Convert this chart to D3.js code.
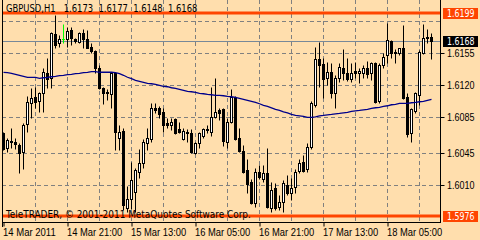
<!DOCTYPE html>
<html>
<head>
<meta charset="utf-8">
<script src="https://cdn.jsdelivr.net/npm/d3@7"></script>
<style>
  body { margin: 0; background: #FFDEAD; }
  svg { display: block; font-family: "DejaVu Sans Condensed", "Liberation Sans", sans-serif; font-size: 11px; }
</style>
</head>
<body>
<div class="chart-container"></div>
<script>
// GBPUSD H1 bars, 14 Mar 2011 05:00 -> 18 Mar 2011 16:00
const opens = [1.6067,1.6051,1.6058,1.6057,1.6054,1.6046,1.6077,1.6100,1.6107,1.6102,1.6111,1.6133,1.6127,1.6176,1.6166,1.6170,1.6170,1.6180,1.6170,1.6167,
  1.6177,1.6170,1.6162,1.6157,1.6139,1.6117,1.6112,1.6110,1.6133,1.6062,1.6069,1.5985,1.5995,1.6002,1.6024,1.6034,1.6056,1.6060,1.6094,1.6095,
  1.6090,1.6078,1.6076,1.6083,1.6071,1.6061,1.6068,1.6067,1.6045,1.6056,1.6064,1.6072,1.6068,1.6085,1.6092,1.6093,1.6057,1.6079,1.6107,1.6062,
  1.6047,1.6026,1.6013,1.5990,1.6024,1.6017,1.6023,1.5985,1.6007,1.5986,1.5991,1.6010,1.6001,1.6008,1.6025,1.6035,1.6027,1.6052,1.6098,1.6148,
  1.6143,1.6127,1.6134,1.6111,1.6127,1.6139,1.6133,1.6126,1.6135,1.6133,1.6133,1.6139,1.6133,1.6144,1.6102,1.6142,1.6153,1.6168,1.6156,1.6155,
  1.6160,1.6107,1.6067,1.6091,1.6109,1.6155,1.6171,1.6173];
const highs = [1.6068,1.6062,1.6073,1.6062,1.6056,1.6078,1.6108,1.6117,1.6118,1.6112,1.6139,1.6149,1.6178,1.6197,1.6175,1.6187,1.6183,1.6183,1.6172,1.6178,
  1.6181,1.6180,1.6166,1.6158,1.6142,1.6118,1.6115,1.6134,1.6134,1.6076,1.6073,1.6009,1.6035,1.6029,1.6050,1.6061,1.6073,1.6100,1.6100,1.6097,
  1.6094,1.6084,1.6084,1.6084,1.6079,1.6073,1.6072,1.6072,1.6057,1.6068,1.6073,1.6076,1.6118,1.6128,1.6095,1.6094,1.6084,1.6115,1.6108,1.6073,
  1.6054,1.6039,1.6017,1.6029,1.6032,1.6032,1.6051,1.6013,1.6012,1.5999,1.6015,1.6021,1.6018,1.6027,1.6039,1.6043,1.6056,1.6102,1.6162,1.6167,
  1.6150,1.6145,1.6144,1.6131,1.6144,1.6159,1.6150,1.6144,1.6145,1.6138,1.6142,1.6146,1.6145,1.6145,1.6144,1.6155,1.6188,1.6169,1.6159,1.6161,
  1.6186,1.6111,1.6094,1.6112,1.6158,1.6187,1.6181,1.6177];
const lows = [1.6048,1.6046,1.6051,1.6050,1.6023,1.6028,1.6068,1.6084,1.6094,1.6090,1.6090,1.6116,1.6117,1.6161,1.6162,1.6166,1.6162,1.6164,1.6166,1.6166,
  1.6161,1.6160,1.6155,1.6133,1.6115,1.6099,1.6103,1.6095,1.6048,1.6048,1.5982,1.5980,1.5984,1.5980,1.6018,1.6029,1.6048,1.6057,1.6089,1.6084,
  1.6068,1.6073,1.6070,1.6066,1.6067,1.6059,1.6057,1.6045,1.6044,1.6051,1.6062,1.6067,1.6064,1.6084,1.6081,1.6053,1.6051,1.6078,1.6059,1.6046,
  1.6023,1.6001,1.5989,1.5986,1.6017,1.6013,1.5985,1.5980,1.5983,1.5982,1.5980,1.5999,1.5994,1.6001,1.6023,1.6024,1.6024,1.6050,1.6096,1.6118,
  1.6106,1.6120,1.6106,1.6094,1.6123,1.6125,1.6124,1.6123,1.6128,1.6122,1.6127,1.6128,1.6125,1.6100,1.6100,1.6139,1.6144,1.6150,1.6144,1.6153,
  1.6104,1.6063,1.6057,1.6089,1.6098,1.6154,1.6166,1.6148];
const closes = [1.6050,1.6059,1.6057,1.6055,1.6045,1.6076,1.6101,1.6106,1.6101,1.6111,1.6134,1.6126,1.6177,1.6164,1.6170,1.6170,1.6179,1.6171,1.6168,1.6177,
  1.6170,1.6161,1.6157,1.6139,1.6116,1.6111,1.6111,1.6133,1.6068,1.6068,1.5988,1.5995,1.6015,1.6026,1.6034,1.6057,1.6062,1.6095,1.6092,1.6088,
  1.6076,1.6076,1.6079,1.6067,1.6068,1.6069,1.6067,1.6046,1.6056,1.6067,1.6072,1.6070,1.6085,1.6090,1.6089,1.6058,1.6079,1.6107,1.6061,1.6047,
  1.6024,1.6011,1.5990,1.6024,1.6019,1.6023,1.5986,1.6005,1.5985,1.5991,1.6012,1.6001,1.6007,1.6024,1.6034,1.6025,1.6052,1.6100,1.6148,1.6142,
  1.6126,1.6134,1.6111,1.6127,1.6140,1.6133,1.6126,1.6133,1.6133,1.6135,1.6139,1.6132,1.6144,1.6101,1.6142,1.6151,1.6169,1.6155,1.6155,1.6160,
  1.6106,1.6066,1.6093,1.6111,1.6156,1.6172,1.6173,1.6168];
// moving average, one value per bar
const maValues = [1.61338,1.61333,1.61327,1.61316,1.61305,1.61294,1.61283,1.61283,1.61283,1.61272,1.61278,1.61283,1.61289,1.61294,1.61300,1.61305,1.61311,1.61316,1.61322,1.61327,
  1.61333,1.61338,1.61344,1.61344,1.61338,1.61338,1.61338,1.61338,1.61333,1.61322,1.61305,1.61283,1.61267,1.61250,1.61239,1.61228,1.61217,1.61212,1.61206,1.61195,
  1.61184,1.61179,1.61168,1.61162,1.61151,1.61140,1.61129,1.61124,1.61118,1.61107,1.61102,1.61096,1.61091,1.61085,1.61085,1.61080,1.61074,1.61069,1.61063,1.61052,
  1.61041,1.61030,1.61019,1.61008,1.60992,1.60975,1.60964,1.60948,1.60931,1.60920,1.60904,1.60893,1.60876,1.60865,1.60860,1.60854,1.60843,1.60843,1.60849,1.60860,
  1.60865,1.60871,1.60876,1.60882,1.60887,1.60893,1.60898,1.60909,1.60915,1.60920,1.60926,1.60931,1.60942,1.60948,1.60953,1.60964,1.60970,1.60981,1.60986,1.60997,
  1.60997,1.60997,1.61003,1.61008,1.61014,1.61019,1.61030,1.61041];

const priceGrid = [1.6190, 1.6155, 1.6120, 1.6085, 1.6045, 1.6010];
const priceTicks = [1.6155, 1.6120, 1.6085, 1.6045, 1.6010]; // 1.6190 sits under the 1.6199 box
const timeTickBars = [0, 16, 32, 48, 64, 80, 96];
const timeTickLabels = ["14 Mar 2011", "14 Mar 21:00", "15 Mar 13:00", "16 Mar 05:00", "16 Mar 21:00", "17 Mar 13:00", "18 Mar 05:00"];
const gridBars = [8, 16, 24, 32, 40, 48, 56, 64, 72, 80, 88, 96, 104];
const levelPrices = [1.6199, 1.5976];
const bidPrice = 1.6168;
const symbolTitle = "GBPUSD,H1";
const copyrightText = "TeleTRADER, \u00a9 2001-2011 MetaQuotes Software Corp.";

const width = 480, height = 240;
const plot = { left: 2, right: 440, top: 0, bottom: 222 };

// squeeze text to the width the terminal font gives
function fit(sel, perChar) {
    sel.each(function() {
        const t = d3.select(this), s = t.text();
        const w = d3.sum(s.split(""), c => c === "." || c === "," || c === ":" ? perChar * 0.5 : c === " " ? perChar * 0.55 : c === "M" ? perChar * 1.45 : perChar);
        t.attr("textLength", w).attr("lengthAdjust", "spacingAndGlyphs");
    });
}

const svg = d3.select(".chart-container").append("svg")
    .attr("width", width)
    .attr("height", height);

svg.append("rect").attr("width", width).attr("height", height).attr("fill", "#FFDEAD");

const x = d3.scaleLinear()
    .domain([0, 108])
    .range([3.5, 435.5]);

const y = d3.scaleLinear()
    .domain([1.59693, 1.62132])
    .range([plot.bottom, plot.top]);

const py = v => Math.round(y(v)) + 0.5;

// grid
svg.append("g").selectAll("line").data(priceGrid).join("line")
    .attr("x1", plot.left).attr("x2", plot.right)
    .attr("y1", d => py(d)).attr("y2", d => py(d))
    .attr("stroke", "#808080").attr("stroke-dasharray", "4,3");

svg.append("g").selectAll("line").data(gridBars).join("line")
    .attr("x1", d => x(d)).attr("x2", d => x(d))
    .attr("y1", plot.top).attr("y2", plot.bottom)
    .attr("stroke", "#808080").attr("stroke-dasharray", "4,3");

// support / resistance levels
svg.append("g").selectAll("line").data(levelPrices).join("line")
    .attr("x1", plot.left).attr("x2", plot.right)
    .attr("y1", d => Math.round(y(d))).attr("y2", d => Math.round(y(d)))
    .attr("stroke", "#FF4500").attr("stroke-width", 3);

// bid line
svg.append("line")
    .attr("x1", plot.left).attr("x2", plot.right)
    .attr("y1", py(bidPrice)).attr("y2", py(bidPrice))
    .attr("stroke", "#778899");

// candles
const bars = d3.range(opens.length);
const candle = svg.append("g").selectAll("g").data(bars).join("g");

candle.append("line")
    .attr("x1", i => x(i)).attr("x2", i => x(i))
    .attr("y1", i => py(highs[i])).attr("y2", i => py(lows[i]))
    .attr("stroke", i => opens[i] === closes[i] ? "#00FF00" : "#000");

candle.filter(i => opens[i] !== closes[i]).append("rect")
    .attr("x", i => x(i) - 1)
    .attr("y", i => py(Math.max(opens[i], closes[i])))
    .attr("width", 2)
    .attr("height", i => Math.max(1, py(Math.min(opens[i], closes[i])) - py(Math.max(opens[i], closes[i]))))
    .attr("fill", i => closes[i] > opens[i] ? "#fff" : "#000")
    .attr("stroke", "#000");

candle.filter(i => opens[i] === closes[i]).append("line")
    .attr("x1", i => x(i) - 1.5).attr("x2", i => x(i) + 1.5)
    .attr("y1", i => py(opens[i])).attr("y2", i => py(opens[i]))
    .attr("stroke", "#00FF00");

// moving average
const maLine = d3.line()
    .x((d, i) => x(i))
    .y(d => y(d));

svg.append("path")
    .datum(maValues)
    .attr("d", maLine)
    .attr("fill", "none")
    .attr("stroke", "#00008B")
    .attr("stroke-width", 1.3);

// frame + axes
svg.append("line").attr("x1", plot.left + 0.5).attr("x2", plot.left + 0.5)
    .attr("y1", 0).attr("y2", plot.bottom + 5).attr("stroke", "#000");

const yAxis = svg.append("g")
    .attr("transform", "translate(" + (plot.right + 0.5) + ",0)")
    .call(d3.axisRight(y).tickValues(priceTicks).tickSize(4).tickSizeOuter(0).tickFormat(d3.format(".4f")));
yAxis.select(".domain").attr("d", "M0,0V" + (plot.bottom + 0.5));
yAxis.selectAll(".tick").attr("transform", d => "translate(0," + py(d) + ")");
yAxis.selectAll("text").attr("fill", "#000").attr("font-size", 10).attr("font-family", null).attr("x", 6.5).call(fit, 5);
yAxis.selectAll("line,path").attr("stroke", "#000");

const xAxis = svg.append("g")
    .attr("transform", "translate(0," + (plot.bottom + 0.5) + ")")
    .call(d3.axisBottom(x).tickValues(timeTickBars).tickSize(4).tickSizeOuter(0)
        .tickFormat((d, i) => timeTickLabels[i]));
xAxis.select(".domain").attr("d", "M" + plot.left + ",0H" + (plot.right + 1));
xAxis.selectAll("text").attr("text-anchor", "start").attr("y", 13).attr("dy", 0).attr("dx", -1)
    .attr("fill", "#000").attr("font-size", 11).attr("font-family", null).call(fit, 5);
xAxis.selectAll("line,path").attr("stroke", "#000");

// price boxes on the right scale
const boxes = [
    { price: levelPrices[0], fill: "#FF4500" },
    { price: bidPrice, fill: "#000" },
    { price: levelPrices[1], fill: "#FF4500" }
];
const box = svg.append("g").selectAll("g").data(boxes).join("g")
    .attr("transform", d => "translate(443," + Math.round(y(d.price)) + ")");
box.append("rect").attr("x", 0).attr("y", -5).attr("width", 35).attr("height", 11).attr("fill", d => d.fill);
box.append("text").attr("x", 4).attr("y", 4).attr("fill", "#fff").attr("font-size", 10)
    .text(d => d3.format(".4f")(d.price)).call(fit, 5);

// texts
const last = opens.length - 1;
svg.append("text")
    .attr("x", 6).attr("y", 12)
    .attr("xml:space", "preserve")
    .text(symbolTitle + "   " + [opens[last], highs[last], lows[last], closes[last]].map(d3.format(".4f")).join("  "))
    .call(fit, 5.4);

svg.append("text")
    .attr("x", 6).attr("y", 218)
    .text(copyrightText)
    .call(fit, 5.3);
</script>
</body>
</html>
